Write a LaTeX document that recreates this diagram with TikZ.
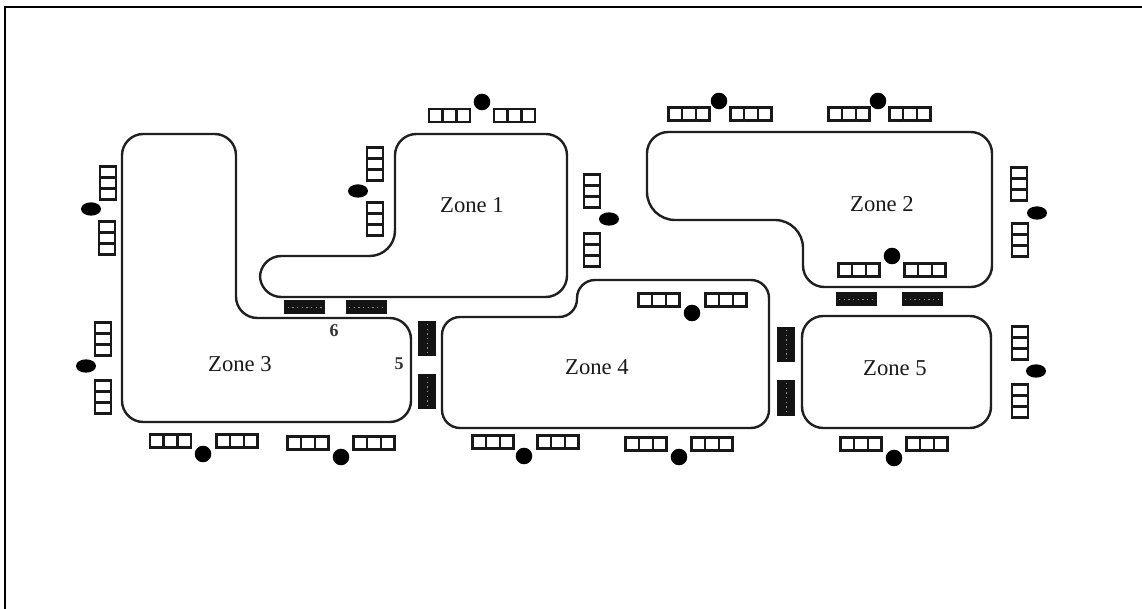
\documentclass[tikz,border=0pt]{standalone}
\usepackage{fontspec}
\setmainfont{Liberation Serif}
\tikzset{
  zoneline/.style={draw=black!88,line width=1.8pt,rounded corners=16pt,line join=round},
  rackcell/.style={draw=black!90,line width=1.6pt,fill=white},
  darkrack/.style={fill=black!92,draw=none},
  speck/.style={draw=black!45,line width=0.5pt,dash pattern=on 1pt off 2.5pt},
  dotcar/.style={fill=black,draw=none},
  zonelabel/.style={font=\fontsize{17}{20}\selectfont,text=black!90,inner sep=0pt},
  numlabel/.style={font=\fontsize{13.5}{15}\selectfont\bfseries,text=black!80,inner sep=0pt}
}
\newcommand{\hrackbox}[2]{%
  \draw[rackcell] (#1-20.5,#2-6.5) rectangle (#1+20.5,#2+6.5);
  \draw[rackcell] (#1-7,#2-6.5) -- (#1-7,#2+6.5) (#1+7,#2-6.5) -- (#1+7,#2+6.5);}
\newcommand{\vrackbox}[2]{%
  \draw[rackcell] (#1-8,#2-16.5) rectangle (#1+8,#2+16.5);
  \draw[rackcell] (#1-8,#2-5.5) -- (#1+8,#2-5.5) (#1-8,#2+5.5) -- (#1+8,#2+5.5);}
\newcommand{\hdarkbox}[2]{%
  \fill[darkrack] (#1-20.5,#2-7) rectangle (#1+20.5,#2+7);
  \draw[speck] (#1-17,#2) -- (#1+17,#2);}
\newcommand{\vdarkbox}[2]{%
  \fill[darkrack] (#1-9,#2-17.5) rectangle (#1+9,#2+17.5);
  \draw[speck] (#1,#2-15) -- (#1,#2+15);}
\begin{document}
\begin{tikzpicture}[x=0.75pt,y=-0.75pt]
\useasboundingbox (0,0) rectangle (1142,609);
% frame
\draw[line width=2.2pt,black] (5,609) -- (5,7) -- (1142,7);
% zones
\draw[zoneline] (122,134) -- (236,134) -- (236,318) -- (411,318) -- (411,422) -- (122,422) -- cycle;
\draw[zoneline] (395,134) -- (567,134) -- (567,297) -- (260,297) -- (260,256) [rounded corners=19pt] -- (395,256) [rounded corners=16pt] -- cycle;
\draw[zoneline,rounded corners=13.5pt] (442,317) -- (577,317) -- (577,280) -- (769,280) -- (769,428) -- (442,428) -- cycle;
\draw[zoneline] (647,132) -- (992,132) -- (992,287) -- (803,287) [rounded corners=21pt] -- (803,220) -- (647,220) [rounded corners=16pt] -- cycle;
\draw[zoneline] (802,316) -- (991,316) -- (991,428) -- (802,428) -- cycle;
% horizontal racks
\foreach \x/\y in {449.5/115.5,514.5/115.5,170.5/441,237/441,308/443,374/443,493/442,558/442,
  689/114,751/114,849/114,910/114,859/270,925/270,659/300,726/300,646/444,712/444,861/444,927/444}
  {\hrackbox{\x}{\y}}
% vertical racks
\foreach \x/\y in {375/164,375/219,108/183,107/238,103/339,103/397,592/191,592/250,
  1019/184,1020/240,1020/343,1020/401}
  {\vrackbox{\x}{\y}}
% dark racks
\foreach \x/\y in {304.5/307,366/307,856/299,922/299}{\hdarkbox{\x}{\y}}
\foreach \x/\y in {427/339,427/392,786/345,786/398}{\vdarkbox{\x}{\y}}
% round markers
\foreach \x/\y in {482/102,203/454,341/457,524/456,719/101,878/101,892/256,692/313,679/457,894/458}
  {\fill[dotcar] (\x,\y) circle[radius=6.2pt];}
% oval markers
\foreach \x/\y in {358/191,91/209,86/366,609/219,1037/213,1036/371}
  {\fill[dotcar] (\x,\y) ellipse[x radius=7.5pt,y radius=5pt];}
% labels
\node[zonelabel] (z1) at (472,205) {Zone 1};
\node[zonelabel] (z2) at (882,204) {Zone 2};
\node[zonelabel] (z3) at (240,364) {Zone 3};
\node[zonelabel] (z4) at (597,367) {Zone 4};
\node[zonelabel] (z5) at (895,368) {Zone 5};
\node[numlabel] (n6) at (334,331) {6};
\node[numlabel] (n5) at (399,364) {5};
\end{tikzpicture}
\end{document}
